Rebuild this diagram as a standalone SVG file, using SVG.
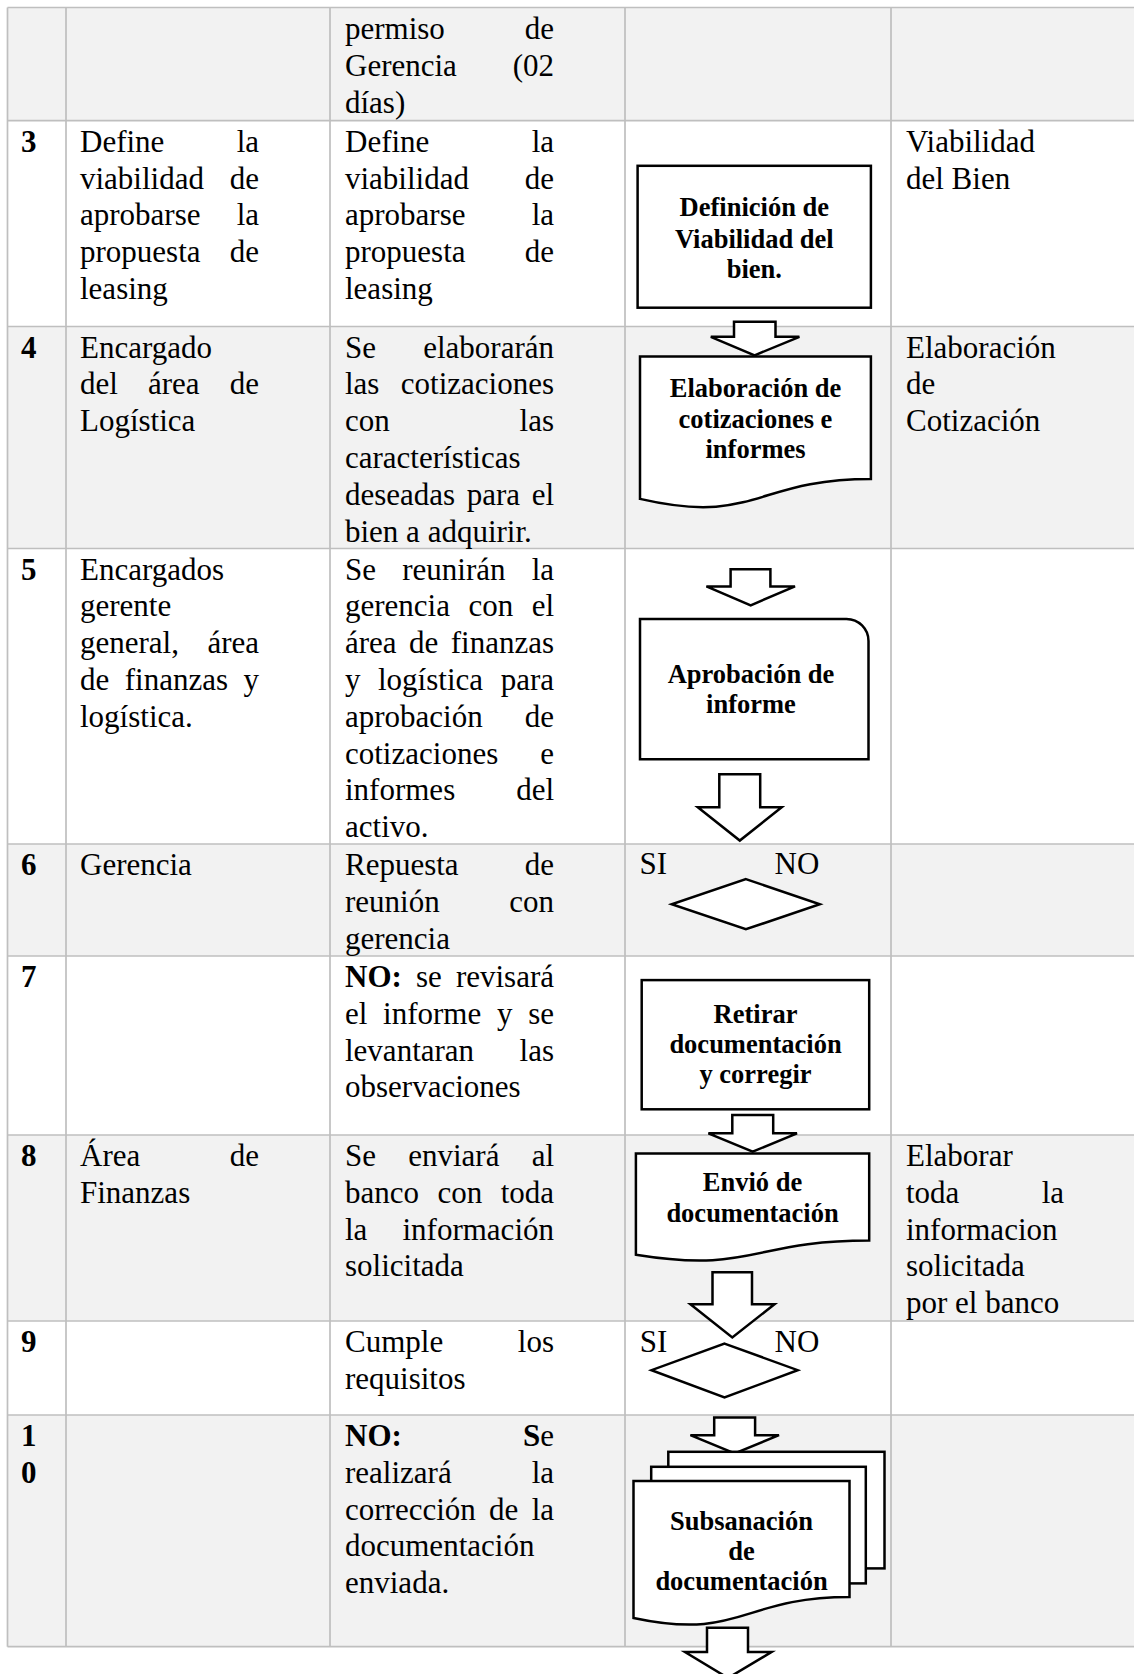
<svg xmlns="http://www.w3.org/2000/svg" width="1134" height="1674" viewBox="0 0 1134 1674">
<style>
.bg{fill:#f2f2f2}
.grid line{stroke:#bfbfbf;stroke-width:1.7}
text{font-family:"Liberation Serif","Times New Roman",serif;fill:#000}
.t{font-size:31px}
.e{text-anchor:end}
.n{font-size:31px;font-weight:bold}
.b{font-weight:bold}
.bt{font-size:26.5px;font-weight:bold;text-anchor:middle}
.sh{fill:#fff;stroke:#000;stroke-width:2.5;stroke-linejoin:miter}
</style>
<rect width="1134" height="1674" fill="#fff"/>
<g id="row-backgrounds">
<rect class="bg" x="7.5" y="7.5" width="1126.5" height="113.2"/>
<rect class="bg" x="7.5" y="326.5" width="1126.5" height="222"/>
<rect class="bg" x="7.5" y="844" width="1126.5" height="112"/>
<rect class="bg" x="7.5" y="1135" width="1126.5" height="186"/>
<rect class="bg" x="7.5" y="1415" width="1126.5" height="231.7"/>
</g>
<g id="grid" class="grid">
<line x1="7.5" y1="7.5" x2="1134" y2="7.5"/>
<line x1="7.5" y1="120.7" x2="1134" y2="120.7"/>
<line x1="7.5" y1="326.5" x2="1134" y2="326.5"/>
<line x1="7.5" y1="548.5" x2="1134" y2="548.5"/>
<line x1="7.5" y1="844" x2="1134" y2="844"/>
<line x1="7.5" y1="956" x2="1134" y2="956"/>
<line x1="7.5" y1="1135" x2="1134" y2="1135"/>
<line x1="7.5" y1="1321" x2="1134" y2="1321"/>
<line x1="7.5" y1="1415" x2="1134" y2="1415"/>
<line x1="7.5" y1="1646.7" x2="1134" y2="1646.7"/>
<line x1="7.5" y1="7.5" x2="7.5" y2="1646.7"/>
<line x1="66" y1="7.5" x2="66" y2="1646.7"/>
<line x1="330" y1="7.5" x2="330" y2="1646.7"/>
<line x1="625" y1="7.5" x2="625" y2="1646.7"/>
<line x1="891" y1="7.5" x2="891" y2="1646.7"/>
</g>
<g id="table-text" class="t">
<!-- row 0 -->
<text x="345" y="39">permiso</text><text class="e" x="554" y="39">de</text>
<text x="345" y="75.8">Gerencia</text><text class="e" x="554" y="75.8">(02</text>
<text x="345" y="112.6">días)</text>
<!-- row 3 -->
<text class="n" x="21" y="151.7">3</text>
<text x="80" y="151.7">Define</text><text class="e" x="259" y="151.7">la</text>
<text x="80" y="188.5">viabilidad</text><text class="e" x="259" y="188.5">de</text>
<text x="80" y="225.3">aprobarse</text><text class="e" x="259" y="225.3">la</text>
<text x="80" y="262.1">propuesta</text><text class="e" x="259" y="262.1">de</text>
<text x="80" y="298.9">leasing</text>
<text x="345" y="151.7">Define</text><text class="e" x="554" y="151.7">la</text>
<text x="345" y="188.5">viabilidad</text><text class="e" x="554" y="188.5">de</text>
<text x="345" y="225.3">aprobarse</text><text class="e" x="554" y="225.3">la</text>
<text x="345" y="262.1">propuesta</text><text class="e" x="554" y="262.1">de</text>
<text x="345" y="298.9">leasing</text>
<text x="906" y="151.7">Viabilidad</text>
<text x="906" y="188.5">del Bien</text>
<!-- row 4 -->
<text class="n" x="21" y="357.5">4</text>
<text x="80" y="357.5">Encargado</text>
<text x="80" y="394.3">del</text><text x="148" y="394.3">área</text><text class="e" x="259" y="394.3">de</text>
<text x="80" y="431.1">Logística</text>
<text x="345" y="357.5">Se</text><text class="e" x="554" y="357.5">elaborarán</text>
<text x="345" y="394.3">las</text><text class="e" x="554" y="394.3">cotizaciones</text>
<text x="345" y="431.1">con</text><text class="e" x="554" y="431.1">las</text>
<text x="345" y="467.9">características</text>
<text x="345" y="504.7">deseadas</text><text x="466.7" y="504.7">para</text><text class="e" x="554" y="504.7">el</text>
<text x="345" y="541.5">bien a adquirir.</text>
<text x="906" y="357.5">Elaboración</text>
<text x="906" y="394.3">de</text>
<text x="906" y="431.1">Cotización</text>
<!-- row 5 -->
<text class="n" x="21" y="579.5">5</text>
<text x="80" y="579.5">Encargados</text>
<text x="80" y="616.3">gerente</text>
<text x="80" y="653.1">general,</text><text class="e" x="259" y="653.1">área</text>
<text x="80" y="689.9">de</text><text x="124.8" y="689.9">finanzas</text><text class="e" x="259" y="689.9">y</text>
<text x="80" y="726.7">logística.</text>
<text x="345" y="579.5">Se</text><text x="402.2" y="579.5">reunirán</text><text class="e" x="554" y="579.5">la</text>
<text x="345" y="616.3">gerencia</text><text x="468.4" y="616.3">con</text><text class="e" x="554" y="616.3">el</text>
<text x="345" y="653.1">área</text><text x="409" y="653.1">de</text><text class="e" x="554" y="653.1">finanzas</text>
<text x="345" y="689.9">y</text><text x="378" y="689.9">logística</text><text class="e" x="554" y="689.9">para</text>
<text x="345" y="726.7">aprobación</text><text class="e" x="554" y="726.7">de</text>
<text x="345" y="763.5">cotizaciones</text><text class="e" x="554" y="763.5">e</text>
<text x="345" y="800.3">informes</text><text class="e" x="554" y="800.3">del</text>
<text x="345" y="837.1">activo.</text>
<!-- row 6 -->
<text class="n" x="21" y="875">6</text>
<text x="80" y="875">Gerencia</text>
<text x="345" y="875">Repuesta</text><text class="e" x="554" y="875">de</text>
<text x="345" y="911.8">reunión</text><text class="e" x="554" y="911.8">con</text>
<text x="345" y="948.6">gerencia</text>
<text x="639.5" y="874">SI</text><text x="774.5" y="874">NO</text>
<!-- row 7 -->
<text class="n" x="21" y="987">7</text>
<text class="b" x="345" y="987">NO:</text><text x="416" y="987">se</text><text class="e" x="554" y="987">revisará</text>
<text x="345" y="1023.8">el</text><text x="383.1" y="1023.8">informe</text><text x="496.9" y="1023.8">y</text><text class="e" x="554" y="1023.8">se</text>
<text x="345" y="1060.6">levantaran</text><text class="e" x="554" y="1060.6">las</text>
<text x="345" y="1097.4">observaciones</text>
<!-- row 8 -->
<text class="n" x="21" y="1166">8</text>
<text x="80" y="1166">Área</text><text class="e" x="259" y="1166">de</text>
<text x="80" y="1202.8">Finanzas</text>
<text x="345" y="1166">Se</text><text x="408.2" y="1166">enviará</text><text class="e" x="554" y="1166">al</text>
<text x="345" y="1202.8">banco</text><text x="437.4" y="1202.8">con</text><text class="e" x="554" y="1202.8">toda</text>
<text x="345" y="1239.6">la</text><text class="e" x="554" y="1239.6">información</text>
<text x="345" y="1276.4">solicitada</text>
<text x="906" y="1166">Elaborar</text>
<text x="906" y="1202.8">toda</text><text class="e" x="1064" y="1202.8">la</text>
<text x="906" y="1239.6">informacion</text>
<text x="906" y="1276.4">solicitada</text>
<text x="906" y="1313.2">por el banco</text>
<!-- row 9 -->
<text class="n" x="21" y="1352">9</text>
<text x="345" y="1352">Cumple</text><text class="e" x="554" y="1352">los</text>
<text x="345" y="1388.8">requisitos</text>
<text x="639.7" y="1352">SI</text><text x="774.5" y="1352">NO</text>
<!-- row 10 -->
<text class="n" x="21" y="1446">1</text>
<text class="n" x="21" y="1482.8">0</text>
<text class="b" x="345" y="1446">NO:</text><text class="e" x="554" y="1446"><tspan class="b">S</tspan>e</text>
<text x="345" y="1482.8">realizará</text><text class="e" x="554" y="1482.8">la</text>
<text x="345" y="1519.6">corrección</text><text x="489" y="1519.6">de</text><text class="e" x="554" y="1519.6">la</text>
<text x="345" y="1556.4">documentación</text>
<text x="345" y="1593.2">enviada.</text>
</g>
<g id="connectors">
<polygon class="sh" points="734,321.8 775.5,321.8 775.5,336.8 799.4,336.8 754.6,355.3 710.8,336.8 734,336.8"/>
<polygon class="sh" points="730.6,569.3 770.4,569.3 770.4,586.4 795,586.4 750.7,605.3 706.4,586.4 730.6,586.4"/>
<polygon class="sh" points="719.3,774.3 760.2,774.3 760.2,807.3 781.7,807.3 739.8,840.6 697.8,807.3 719.3,807.3"/>
<polygon class="sh" points="732.3,1115 773.2,1115 773.2,1133.3 797,1133.3 752.7,1151.7 708.4,1133.3 732.3,1133.3"/>
<polygon class="sh" points="712.5,1272.2 752,1272.2 752,1304.2 774.5,1304.2 732.3,1337.5 690.4,1304.2 712.5,1304.2"/>
<polygon class="sh" points="714.2,1417.5 755.1,1417.5 755.1,1435.2 779,1435.2 734.7,1453.5 690.4,1435.2 714.2,1435.2"/>
<polygon class="sh" points="707,1627.7 748,1627.7 748,1652 771.5,1652 728,1678 685,1652 707,1652"/>
</g>
<g id="node-definicion">
<rect class="sh" x="637.6" y="165.8" width="233.3" height="141.9"/>
<text class="bt" x="754.3" y="215.7">Definición de</text>
<text class="bt" x="754.3" y="247.7">Viabilidad del</text>
<text class="bt" x="754.3" y="278">bien.</text>
</g>
<g id="node-elaboracion">
<path class="sh" d="M640,356.4 H870.9 V479 C755.5,479 755.5,525.6 640,498.9 Z"/>
<text class="bt" x="755.5" y="396.5">Elaboración de</text>
<text class="bt" x="755.5" y="427.5">cotizaciones e</text>
<text class="bt" x="755.5" y="457.7">informes</text>
</g>
<g id="node-aprobacion">
<path class="sh" d="M640,619 H846.5 A22,22 0 0 1 868.5,641 V759.2 H640 Z"/>
<text class="bt" x="751" y="682.6">Aprobación de</text>
<text class="bt" x="751" y="712.8">informe</text>
</g>
<g id="node-decision-6">
<polygon class="sh" points="745.9,879.1 819.8,904.2 745.9,929.3 671.7,904.2"/>
</g>
<g id="node-retirar">
<rect class="sh" x="641.7" y="980.1" width="227.5" height="129.2"/>
<text class="bt" x="755.5" y="1023">Retirar</text>
<text class="bt" x="755.5" y="1053">documentación</text>
<text class="bt" x="755.5" y="1083.2">y corregir</text>
</g>
<g id="node-envio">
<path class="sh" d="M635.9,1153.4 H869.2 V1240.4 C752.5,1240.4 752.5,1273.6 635.9,1254.7 Z"/>
<text class="bt" x="752.5" y="1190.9">Envió de</text>
<text class="bt" x="752.5" y="1222">documentación</text>
</g>
<g id="node-decision-9">
<polygon class="sh" points="724.5,1343.6 797.7,1370.2 724.5,1397.5 651.5,1370.2"/>
</g>
<g id="node-subsanacion">
<rect class="sh" x="668.3" y="1451.8" width="216.2" height="116.6"/>
<rect class="sh" x="651.2" y="1466.8" width="214.6" height="116.6"/>
<path class="sh" d="M633.5,1481.1 H849.5 V1597 C741.5,1597 741.5,1641 633.5,1618 Z"/>
<text class="bt" x="741.5" y="1530">Subsanación</text>
<text class="bt" x="741.5" y="1560">de</text>
<text class="bt" x="741.5" y="1590">documentación</text>
</g>
</svg>
